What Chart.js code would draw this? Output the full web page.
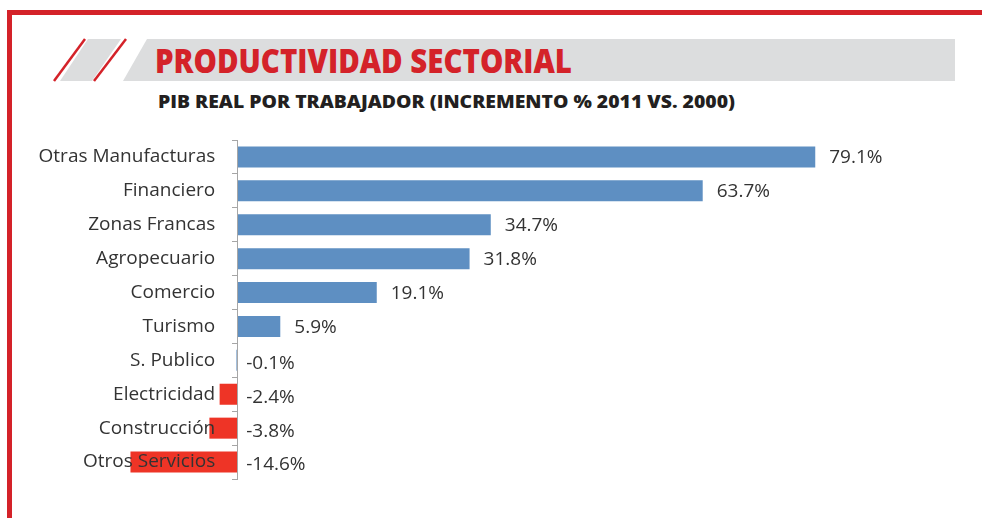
<!DOCTYPE html>
<html>
<head>
<meta charset="utf-8">
<script src="https://cdn.jsdelivr.net/npm/chart.js@4/dist/chart.umd.min.js"></script>
<style>
  html, body { margin: 0; padding: 0; background: #fff; }
  #page { position: relative; width: 982px; height: 518px; overflow: hidden; }
  #deco { position: absolute; left: 0; top: 0; }
  #box { position: absolute; left: 0; top: 120px; width: 982px; height: 398px; }
</style>
</head>
<body>
<div id="page">
  <svg id="deco" width="982" height="518">
    <!-- red frame -->
    <rect x="7" y="10" width="975" height="5" fill="#d42229"/>
    <rect x="7" y="10" width="5" height="508" fill="#d42229"/>
    <!-- title band -->
    <polygon points="88,39 121,39 92,81 60,81" fill="#dcddde"/>
    <line x1="54" y1="81" x2="85" y2="39" stroke="#d42229" stroke-width="2.5"/>
    <line x1="94" y1="81" x2="126" y2="39" stroke="#d42229" stroke-width="2.5"/>
    <polygon points="147,39 955,39 955,81 123,81" fill="#dcddde"/>
    <text x="155" y="73" fill="#d42229" font-family="Open Sans" font-weight="800" font-size="33"
          textLength="417" lengthAdjust="spacingAndGlyphs">PRODUCTIVIDAD SECTORIAL</text>
    <text x="158" y="108" fill="#231f20" font-family="Open Sans" font-weight="800" font-size="18"
          textLength="577" lengthAdjust="spacingAndGlyphs">PIB REAL POR TRABAJADOR  (INCREMENTO % 2011 VS. 2000)</text>
  </svg>
  <div id="box"><canvas id="graph"></canvas></div>
</div>
<script>
var categories = ["Otras Manufacturas", "Financiero", "Zonas Francas", "Agropecuario", "Comercio",
                  "Turismo", "S. Publico", "Electricidad", "Construcción", "Otros Servicios"];
var values = [79.1, 63.7, 34.7, 31.8, 19.1, 5.9, -0.1, -2.4, -3.8, -14.6];

var blue = "#5e8fc2";
var red = "#ee3426";
var barColors = [blue, blue, blue, blue, blue, blue, blue, red, red, red];

// value labels next to each bar
var valueLabels = {
  id: "valueLabels",
  afterDatasetsDraw: function (chart) {
    var ctx = chart.ctx;
    var zero = chart.scales.x.getPixelForValue(0);
    ctx.save();
    ctx.font = "19px 'Open Sans'";
    ctx.fillStyle = "#333";
    ctx.textAlign = "left";
    ctx.textBaseline = "middle";
    chart.getDatasetMeta(0).data.forEach(function (bar, i) {
      var v = values[i];
      var x = v >= 0 ? bar.x + 14 : zero + 9;
      var y = bar.y + (v >= 0 ? 1 : 3);
      ctx.fillText(v.toFixed(1) + "%", x, y);
    });
    ctx.restore();
  }
};

function noWidth(scale) { scale.width = 0; }

var canvas = document.getElementById("graph").getContext("2d");
var chart = new Chart(canvas, {
  type: "bar",
  data: {
    labels: categories,
    datasets: [{
      data: values,
      backgroundColor: barColors,
      borderWidth: 0,
      barPercentage: 0.62,
      categoryPercentage: 1,
      yAxisID: "y"
    }]
  },
  options: {
    indexAxis: "y",
    responsive: true,
    maintainAspectRatio: false,
    animation: false,
    layout: { padding: { left: 91, right: 14, top: 20, bottom: 39 } },
    plugins: { legend: { display: false }, tooltip: { enabled: false } },
    scales: {
      x: { display: false, min: -20, max: 100 },
      // axis line with small ticks between categories, sitting on zero
      y: {
        position: { x: 0 },
        afterFit: noWidth,
        offset: true,
        border: { color: "#a6a6a6", width: 1, z: 1 },
        grid: { offset: true, drawOnChartArea: false, drawTicks: true, tickLength: 5, color: "#a6a6a6" },
        ticks: { display: false }
      },
      // category names, right-aligned a little left of the axis, over the bars
      yl: {
        type: "category",
        axis: "y",
        position: { x: -3 },
        afterFit: noWidth,
        offset: true,
        border: { display: false },
        grid: { display: false },
        ticks: { z: 1, color: "#333", autoSkip: false, font: { family: "Open Sans", size: 19 } }
      }
    }
  },
  plugins: [valueLabels]
});
</script>
</body>
</html>
